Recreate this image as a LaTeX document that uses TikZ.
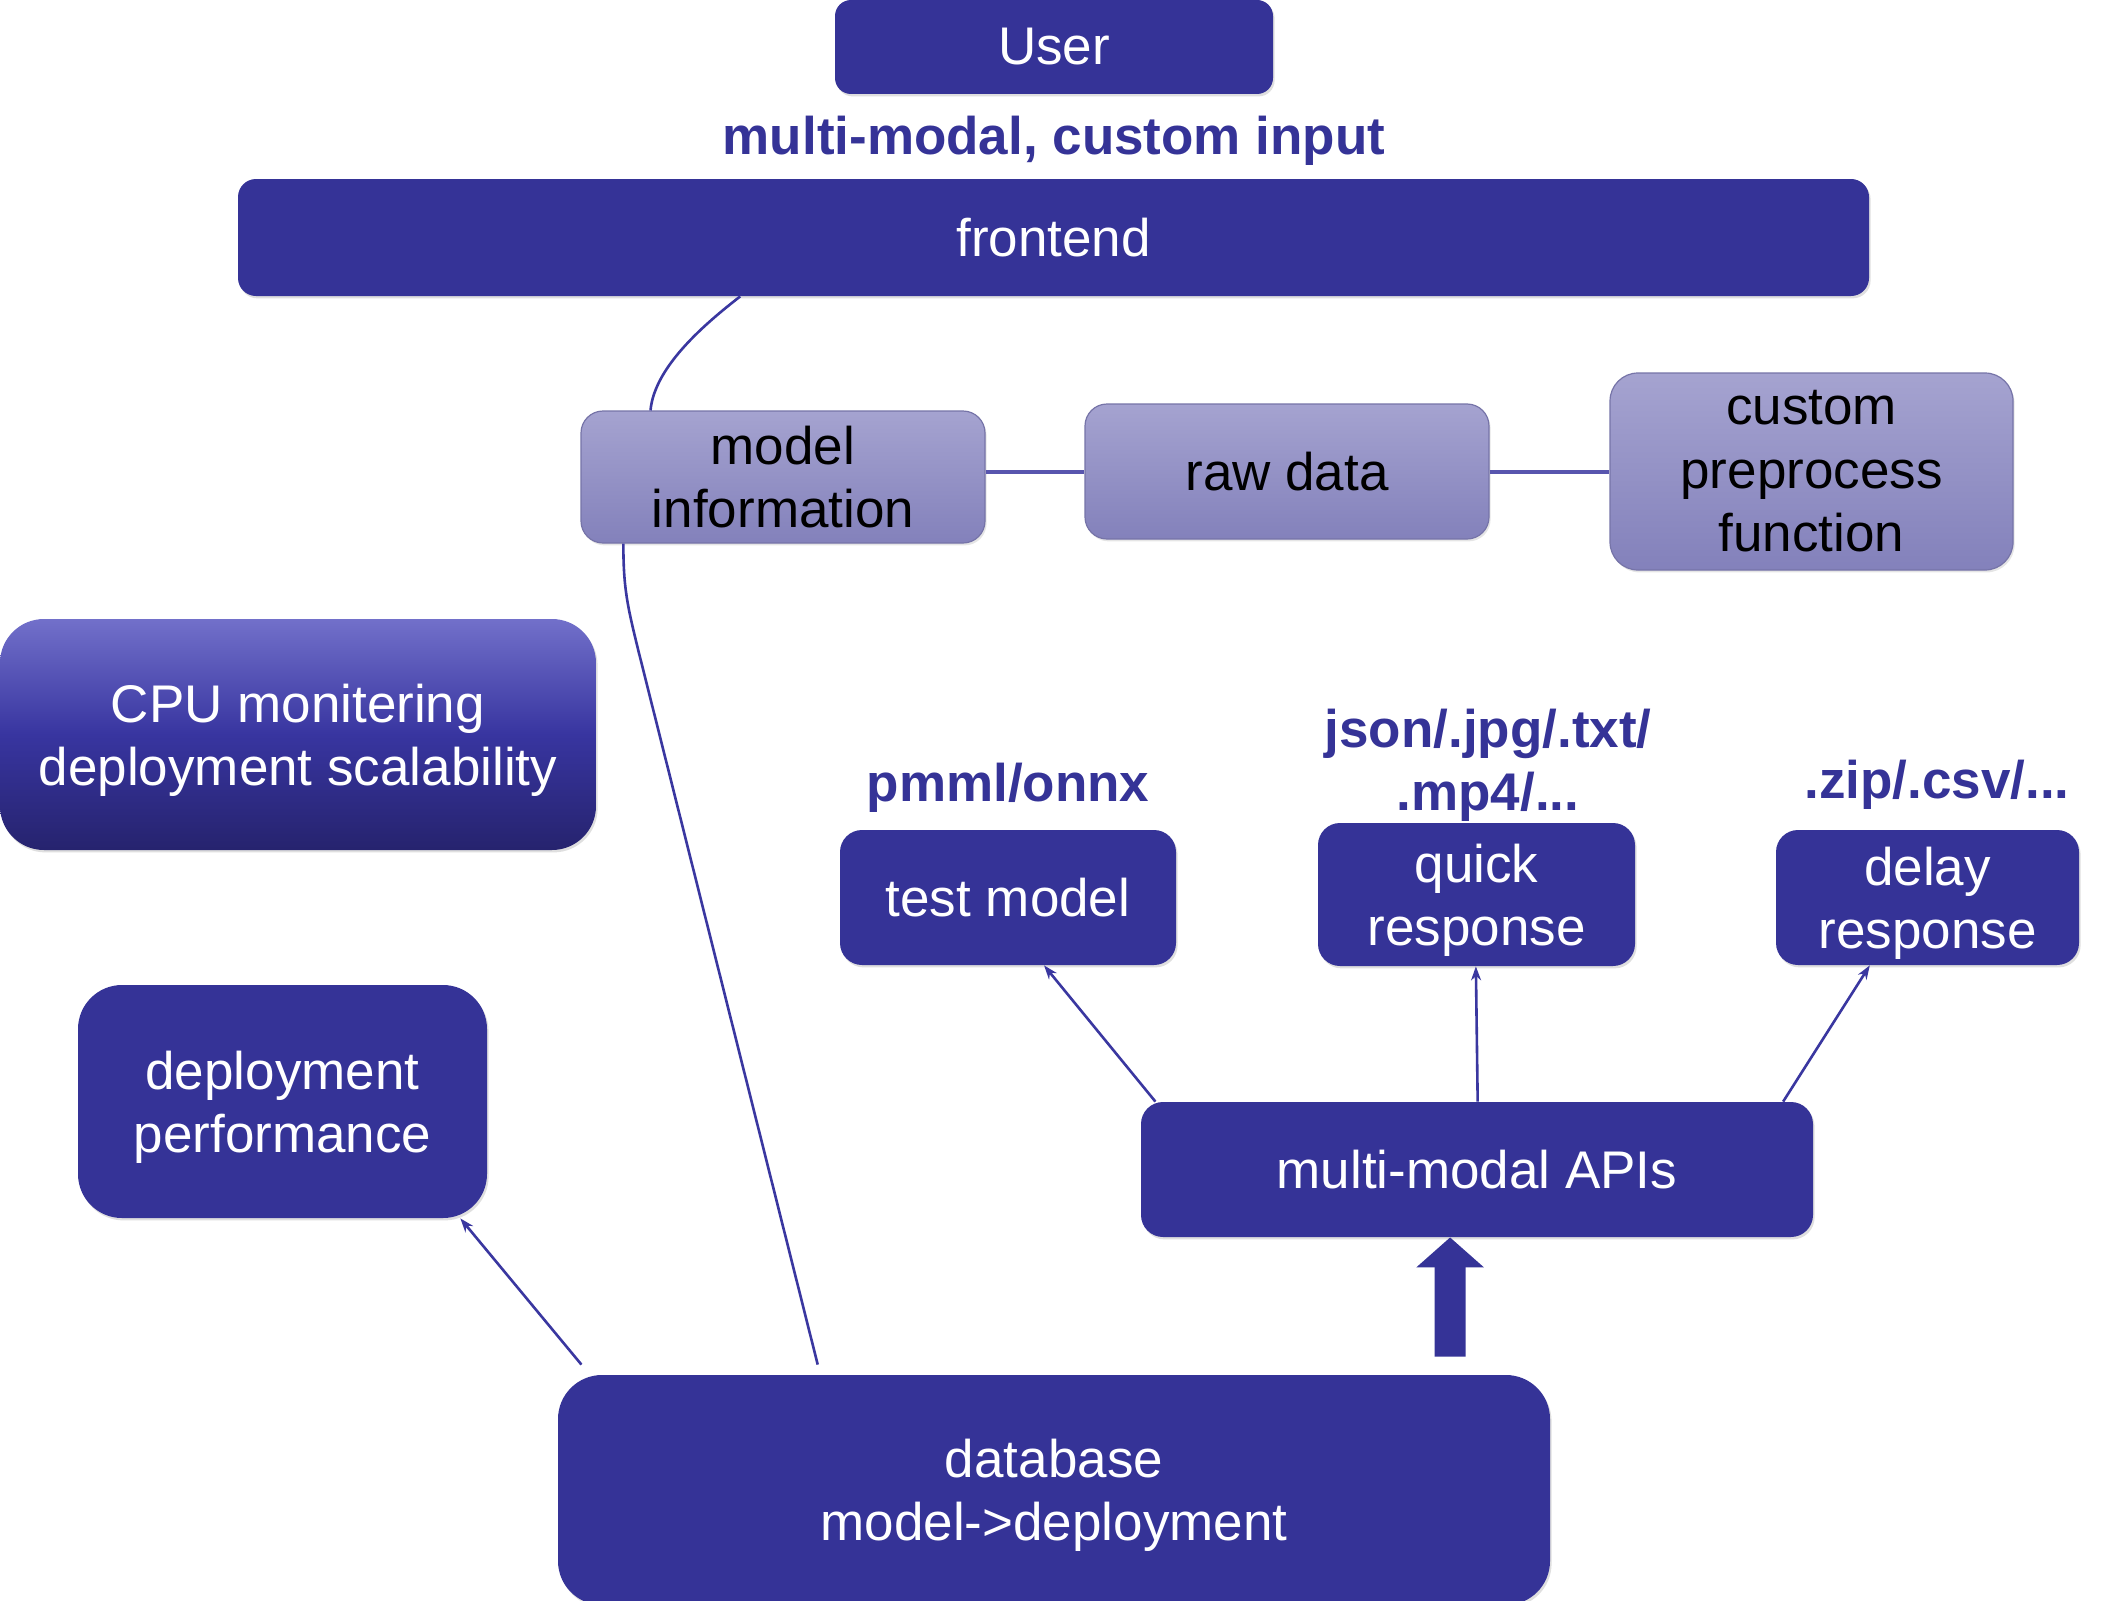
\documentclass[tikz,border=0pt]{standalone}
\usepackage{fontspec}
\setmainfont{Liberation Sans}
\usetikzlibrary{arrows.meta,calc,shadows}
\definecolor{dkblue}{RGB}{53,51,151}
\definecolor{lnblue}{RGB}{58,55,160}
\definecolor{lttop}{RGB}{165,163,208}
\definecolor{ltbot}{RGB}{131,129,187}
\definecolor{cputop}{RGB}{114,112,202}
\definecolor{cpumid}{RGB}{56,53,160}
\definecolor{cpubot}{RGB}{38,35,110}
\newcommand{\nd}[1]{\raisebox{0pt}[\height][0pt]{#1}}
\tikzset{
  txt/.style={font=\fontsize{26.5}{31.7}\selectfont, align=center, inner sep=0pt},
  darkbox/.style={txt, fill=dkblue, text=white, rounded corners=11pt,
    drop shadow={shadow xshift=0.8pt, shadow yshift=-1.2pt, opacity=0.25}},
  lightbox/.style={txt, top color=lttop, bottom color=ltbot, draw=ltbot!90!black, line width=0.6pt, text=black, rounded corners=11pt,
    drop shadow={shadow xshift=0.8pt, shadow yshift=-1.2pt, opacity=0.2}},
  lbl/.style={txt, font=\fontsize{26.5}{31.7}\selectfont\bfseries, text=dkblue},
  conn/.style={draw=lnblue, line width=1.3pt},
  arr/.style={conn, -{Stealth[length=7pt,width=5pt]}},
}
\begin{document}
\begin{tikzpicture}[x=0.5pt,y=-0.5pt]
\useasboundingbox (0,0) rectangle (2113,1600);
\clip (0,0) rectangle (2113,1600);
\fill[white] (0,0) rectangle (2113,1600);

% nodes
\node[darkbox, rounded corners=8pt, minimum width=219pt, minimum height=47pt] (user) at (1054,47) {User};
\node[lbl] (mmlabel) at (1054,135) {\nd{multi-modal, custom input}};
\node[darkbox, rounded corners=9pt, minimum width=815.5pt, minimum height=58.5pt] (front) at (1053.5,237.5) {frontend};

\node[lightbox, minimum width=202pt, minimum height=66pt] (mi) at (783,477) {model\\information};
\node[lightbox, minimum width=202pt, minimum height=67.5pt] (raw) at (1287,471.5) {raw data};
\node[lightbox, minimum width=201.5pt, minimum height=98.5pt, rounded corners=14pt] (cpf) at (1811.5,471.5) {custom\\preprocess\\function};

\node[txt, text=white, top color=cputop, bottom color=cpubot, middle color=cpumid, rounded corners=22pt,
  minimum width=298pt, minimum height=115.5pt,
  drop shadow={shadow xshift=0.8pt, shadow yshift=-1.2pt, opacity=0.25}] (cpu) at (298,734.5) {CPU monitering\\\nd{deployment scalability}};
\node[darkbox, rounded corners=22pt, minimum width=204.5pt, minimum height=116.5pt] (dp) at (282.5,1101.5) {deployment\\\nd{performance}};

\node[lbl] (pmml) at (1008,782) {\nd{pmml/onnx}};
\node[lbl] (json) at (1488,760) {json/.jpg/.txt/\\\nd{.mp4/...}};
\node[lbl] (zip) at (1937,779) {\nd{.zip/.csv/...}};

\node[darkbox, minimum width=168pt, minimum height=67.5pt] (test) at (1008,897.5) {test model};
\node[darkbox, minimum width=158.5pt, minimum height=71.5pt] (quick) at (1476.5,894.5) {quick\\\nd{response}};
\node[darkbox, minimum width=151.5pt, minimum height=67.5pt] (delay) at (1927.5,897.5) {delay\\\nd{response}};
\node[darkbox, minimum width=336pt, minimum height=67.5pt] (apis) at (1477,1169.5) {\nd{multi-modal APIs}};

\node[darkbox, rounded corners=22pt, minimum width=496pt, minimum height=115pt] (db) at (1054,1490) {database\\\nd{model->deployment}};

% connectors
\draw[conn] ($(front.south west)!0.308!(front.south east)$)
  .. controls +(-32,25) and +(4,-45) .. ($(mi.north west)!0.173!(mi.north east)$);
\draw[conn] ($(mi.south west)!0.106!(mi.south east)$)
  .. controls +(0,45) and +(-11,-45) .. ++(15,107)
  -- ($(db.north west)!0.262!(db.north east)+(0,-10)$);
\draw[conn, line width=2pt, draw=lnblue!85] (mi.east |- raw.west) -- (raw.west);
\draw[conn, line width=2pt, draw=lnblue!85] (raw.east) -- (raw.east -| cpf.west);

\draw[arr] ($(db.north west)!0.024!(db.north east)+(0,-10)$) -- ($(dp.south west)!0.934!(dp.south east)$);
\draw[arr] ($(apis.north west)!0.022!(apis.north east)$) -- ($(test.south west)!0.607!(test.south east)$);
\draw[arr] ($(apis.north west)!0.501!(apis.north east)$) -- ($(quick.south west)!0.498!(quick.south east)$);
\draw[arr] ($(apis.north west)!0.955!(apis.north east)$) -- ($(delay.south west)!0.31!(delay.south east)$);

\draw[draw=dkblue, line width=15.5pt, -{Triangle[length=15pt,width=33pt]}]
  ($(db.north west)!0.899!(db.north east)+(0,-18)$) -- ($(apis.south west)!0.46!(apis.south east)$);
\end{tikzpicture}
\end{document}
